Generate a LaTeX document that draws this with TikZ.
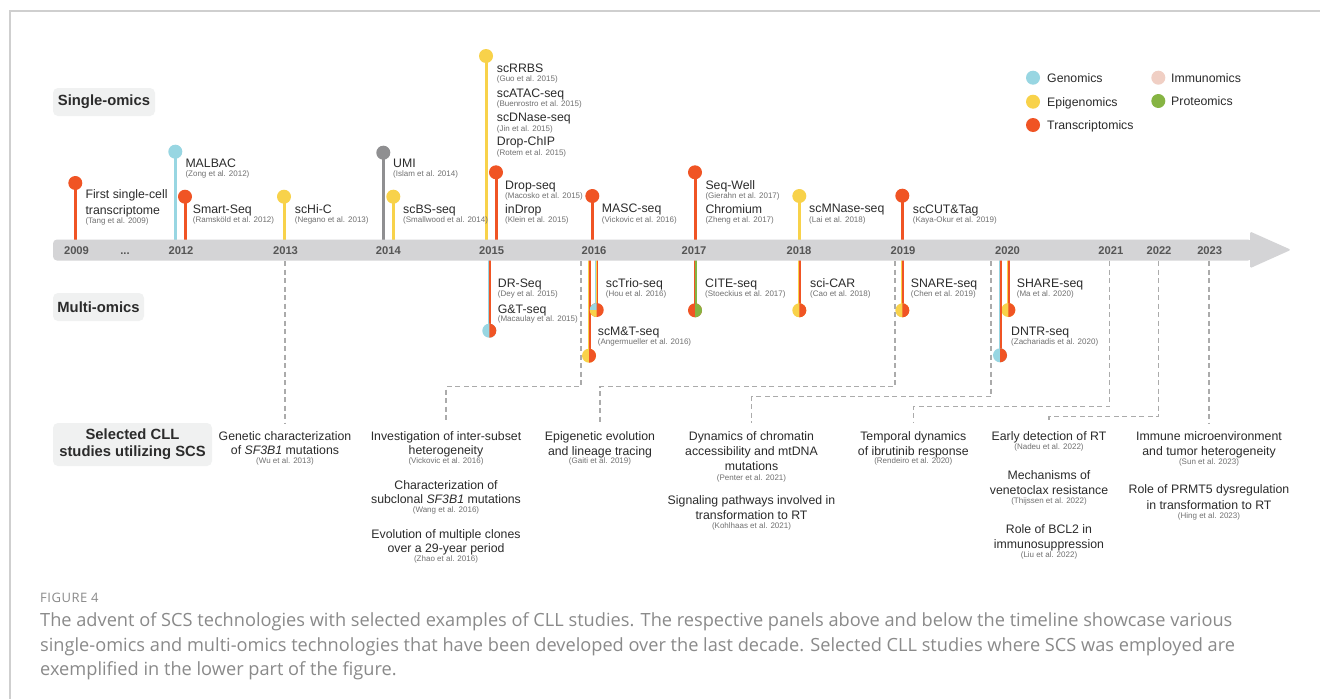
\documentclass[tikz,border=0pt]{standalone}
\usepackage{fontspec}
\setmainfont{Liberation Sans}
\newfontfamily\capfont{Open Sans}
\newfontfamily\figfont[LetterSpace=4]{Open Sans}
\definecolor{cGen}{HTML}{98D6E2}
\definecolor{cEpi}{HTML}{F8D24A}
\definecolor{cTra}{HTML}{F05424}
\definecolor{cImm}{HTML}{F0CFC4}
\definecolor{cPro}{HTML}{86B443}
\definecolor{cUmi}{HTML}{8F8F91}
\definecolor{axisgray}{HTML}{D4D4D6}
\definecolor{boxgray}{HTML}{F0F1F1}
\definecolor{dashgray}{HTML}{ABABAB}
\definecolor{txt}{HTML}{2B2B2B}
\definecolor{citec}{HTML}{707070}
\definecolor{yeargray}{HTML}{555555}
\definecolor{framec}{HTML}{CFCFCF}
\definecolor{capc}{HTML}{8A8A8A}
\tikzset{
 tn/.style={anchor=base west, inner sep=0pt, text=txt, font=\fontsize{12.3}{14}\selectfont},
 tc/.style={anchor=base west, inner sep=0pt, text=citec, font=\fontsize{8}{9}\selectfont},
 sn/.style={anchor=base, inner sep=0pt, text=txt, font=\fontsize{12.3}{14}\selectfont},
 sc/.style={anchor=base, inner sep=0pt, text=citec, font=\fontsize{8}{9}\selectfont},
 yr/.style={anchor=base, inner sep=0pt, text=yeargray, font=\bfseries\fontsize{11.2}{12}\selectfont},
 secbox/.style={fill=boxgray, rounded corners=5pt, inner sep=0pt, text=txt, align=center, font=\bfseries\fontsize{14.8}{17.3}\selectfont},
 stem/.style={line width=3pt},
 conn/.style={draw=dashgray, line width=1.2pt, dash pattern=on 5pt off 3.5pt, shorten >=8.5pt},
 capt/.style={anchor=base west, inner sep=0pt, text=capc, font=\capfont\fontsize{18.2}{20}\selectfont},
}
\newcommand\pinup[3]{%
  \draw[stem,#3] (#1,#2) -- (#1,240);
  \fill[#3] (#1,#2) circle (7);}
\newcommand\pindown[4]{%
  \draw[line width=1.5pt,#3] (#1-0.75,260) -- (#1-0.75,#2);
  \draw[line width=1.5pt,#4] (#1+0.75,260) -- (#1+0.75,#2);
  \fill[#3] (#1,#2) circle (7);
  \fill[#4] (#1,#2-7) arc[start angle=-90,end angle=90,radius=7] -- cycle;}
\newcommand\tech[6]{% id x namebase citebase name cite
  \node[tn] (#1) at (#2,#3) {#5};
  \node[tc] (#1c) at (#2,#4) {#6};}
\begin{document}
\begin{tikzpicture}[x=1pt,y=-1pt]
\useasboundingbox (0,0) rectangle (1320,699);
\fill[white] (0,0) rectangle (1320,699);
% frame
\draw[framec, line width=1.3pt] (10,699) -- (10,11) -- (1320,11);

% section boxes
\node[secbox, minimum width=102, minimum height=28] (single) at (104,102) {Single-omics};
\node[secbox, minimum width=91, minimum height=28] (multi) at (98.5,307) {Multi-omics};
\node[secbox, minimum width=159, minimum height=43] (cll) at (132.5,444.5) {Selected CLL\\studies utilizing SCS};

% legend
\fill[cGen] (1033,77.7) circle (7);
\fill[cEpi] (1033,101.7) circle (7);
\fill[cTra] (1033,125) circle (7);
\fill[cImm] (1158.3,77.7) circle (7);
\fill[cPro] (1158.3,101) circle (7);
\node[tn] (lgen) at (1047,82.2) {Genomics};
\node[tn] (lepi) at (1047,106) {Epigenomics};
\node[tn] (ltra) at (1047,129.5) {Transcriptomics};
\node[tn] (limm) at (1171,82.2) {Immunomics};
\node[tn] (lpro) at (1171,105.5) {Proteomics};

% single-omics pins
\pinup{75.3}{183}{cTra}
\pinup{175.3}{151.7}{cGen}
\pinup{185}{196.7}{cTra}
\pinup{284}{196.7}{cEpi}
\pinup{383.3}{152.7}{cUmi}
\pinup{393.3}{196.7}{cEpi}
\pinup{486}{56}{cEpi}
\pinup{496}{172.3}{cTra}
\pinup{592.3}{196}{cTra}
\pinup{695}{172.3}{cTra}
\pinup{799.3}{196}{cEpi}
\pinup{902.3}{195.7}{cTra}

% multi-omics pins
\pindown{489.3}{330.7}{cGen}{cTra}
\pindown{589}{355.7}{cEpi}{cTra}
\pindown{695}{310.3}{cTra}{cPro}
\pindown{799.3}{310.3}{cEpi}{cTra}
\pindown{902.3}{310.3}{cEpi}{cTra}
\pindown{1008.3}{310}{cEpi}{cTra}
\pindown{1000}{355.3}{cGen}{cTra}
% scTrio-seq
\draw[line width=1pt,cGen] (595.7,260) -- (595.7,310);
\draw[line width=1pt,cEpi] (596.7,260) -- (596.7,310);
\draw[line width=1pt,cTra] (597.7,260) -- (597.7,310);
\fill[cTra] (596.7,310) circle (7);
\fill[cGen] (596.7,310) -- (596.7,303) arc[start angle=-90,end angle=-180,radius=7] -- cycle;
\fill[cEpi] (596.7,310) -- (589.7,310) arc[start angle=180,end angle=90,radius=7] -- cycle;

% axis
\fill[axisgray, rounded corners=4pt] (53,239.5) rectangle (1252,260.5);
\fill[axisgray, rounded corners=1.5pt] (1250,231.5) -- (1291,249.8) -- (1250,268.2) -- cycle;

% years
\node[yr] (y2009) at (76.5,254.3) {2009};
\node[yr] (ydots) at (125,254.3) {...};
\node[yr] (y2012) at (181,254.3) {2012};
\node[yr] (y2013) at (285.5,254.3) {2013};
\node[yr] (y2014) at (388.3,254.3) {2014};
\node[yr] (y2015) at (491.7,254.3) {2015};
\node[yr] (y2016) at (594,254.3) {2016};
\node[yr] (y2017) at (694,254.3) {2017};
\node[yr] (y2018) at (799,254.3) {2018};
\node[yr] (y2019) at (903,254.3) {2019};
\node[yr] (y2020) at (1007.5,254.3) {2020};
\node[yr] (y2021) at (1110.8,254.3) {2021};
\node[yr] (y2022) at (1159,254.3) {2022};
\node[yr] (y2023) at (1209.7,254.3) {2023};

% single-omics labels
\node[tn] (t1a) at (85.3,198.8) {First single-cell};
\tech{t1}{85.3}{214.5}{223.5}{transcriptome}{(Tang et al. 2009)}
\tech{t2}{185.3}{167.5}{176.8}{MALBAC}{(Zong et al. 2012)}
\tech{t3}{192.7}{213.2}{222.5}{Smart-Seq}{(Ramsk\"old et al. 2012)}
\tech{t4}{294.7}{213.2}{222.3}{scHi-C}{(Negano et al. 2013)}
\tech{t5}{393}{167.5}{176.8}{UMI}{(Islam et al. 2014)}
\tech{t6}{403}{213.2}{222.3}{scBS-seq}{(Smallwood et al. 2014)}
\tech{t7}{496.7}{72.8}{81.8}{scRRBS}{(Guo et al. 2015)}
\tech{t8}{496.7}{97.2}{106.1}{scATAC-seq}{(Buenrostro et al. 2015)}
\tech{t9}{496.7}{121.8}{131.1}{scDNase-seq}{(Jin et al. 2015)}
\tech{t10}{496.7}{145.5}{155.1}{Drop-ChIP}{(Rotem et al. 2015)}
\tech{t11}{505}{189.5}{198.1}{Drop-seq}{(Macosko et al. 2015)}
\tech{t12}{505}{213.5}{222.8}{inDrop}{(Klein et al. 2015)}
\tech{t13}{601.7}{212.8}{222.1}{MASC-seq}{(Vickovic et al. 2016)}
\tech{t14}{705.3}{189.2}{198.1}{Seq-Well}{(Gierahn et al. 2017)}
\tech{t15}{705.3}{213.5}{222.8}{Chromium}{(Zheng et al. 2017)}
\tech{t16}{809}{212.8}{222.1}{scMNase-seq}{(Lai et al. 2018)}
\tech{t17}{912.7}{213.5}{222.8}{scCUT\&Tag}{(Kaya-Okur et al. 2019)}

% multi-omics labels
\tech{m1}{497.7}{287.8}{296.5}{DR-Seq}{(Dey et al. 2015)}
\tech{m2}{497.7}{313.2}{321.5}{G\&T-seq}{(Macaulay et al. 2015)}
\tech{m3}{605.7}{287.8}{296.5}{scTrio-seq}{(Hou et al. 2016)}
\tech{m4}{597.7}{335.8}{344.5}{scM\&T-seq}{(Angermueller et al. 2016)}
\tech{m5}{705}{287.8}{296.5}{CITE-seq}{(Stoeckius et al. 2017)}
\tech{m6}{810}{287.8}{296.5}{sci-CAR}{(Cao et al. 2018)}
\tech{m7}{910.7}{287.8}{296.5}{SNARE-seq}{(Chen et al. 2019)}
\tech{m8}{1016.7}{287.8}{296.5}{SHARE-seq}{(Ma et al. 2020)}
\tech{m9}{1011}{335.8}{344.5}{DNTR-seq}{(Zachariadis et al. 2020)}

% CLL studies
\node[sn] (A1) at (285,440.2) {Genetic characterization};
\node[sn] (A2) at (285,454.5) {of \textit{SF3B1} mutations};
\node[sc] (A3) at (285,463.5) {(Wu et al. 2013)};

\node[sn] (B1) at (446,440.5) {Investigation of inter-subset};
\node[sn] (B2) at (446,454.5) {heterogeneity};
\node[sc] (B3) at (446,463.8) {(Vickovic et al. 2016)};
\node[sn] (B4) at (446,489.5) {Characterization of};
\node[sn] (B5) at (446,503.8) {subclonal \textit{SF3B1} mutations};
\node[sc] (B6) at (446,512.1) {(Wang et al. 2016)};
\node[sn] (B7) at (446,538.5) {Evolution of multiple clones};
\node[sn] (B8) at (446,552.8) {over a 29-year period};
\node[sc] (B9) at (446,561.8) {(Zhao et al. 2016)};

\node[sn] (C1) at (600,440.5) {Epigenetic evolution};
\node[sn] (C2) at (600,455) {and lineage tracing};
\node[sc] (C3) at (600,463.8) {(Gaiti et al. 2019)};

\node[sn] (D1) at (751.5,440.5) {Dynamics of chromatin};
\node[sn] (D2) at (751.5,455.5) {accessibility and mtDNA};
\node[sn] (D3) at (751.5,470.2) {mutations};
\node[sc] (D4) at (751.5,480.1) {(Penter et al. 2021)};
\node[sn] (D5) at (751.5,504.5) {Signaling pathways involved in};
\node[sn] (D6) at (751.5,519.5) {transformation to RT};
\node[sc] (D7) at (751.5,528.5) {(Kohlhaas et al. 2021)};

\node[sn] (E1) at (913.3,440.2) {Temporal dynamics};
\node[sn] (E2) at (913.3,455.2) {of ibrutinib response};
\node[sc] (E3) at (913.3,463.8) {(Rendeiro et al. 2020)};

\node[sn] (F1) at (1049,440.2) {Early detection of RT};
\node[sc] (F2) at (1049,449.5) {(Nadeu et al. 2022)};
\node[sn] (F3) at (1049,479.8) {Mechanisms of};
\node[sn] (F4) at (1049,494.5) {venetoclax resistance};
\node[sc] (F5) at (1049,503.8) {(Thijssen et al. 2022)};
\node[sn] (F6) at (1049,533.8) {Role of BCL2 in};
\node[sn] (F7) at (1049,548.5) {immunosuppression};
\node[sc] (F8) at (1049,557.8) {(Liu et al. 2022)};

\node[sn] (G1) at (1209,440.2) {Immune microenvironment};
\node[sn] (G2) at (1209,455.2) {and tumor heterogeneity};
\node[sc] (G3) at (1209,464.1) {(Sun et al. 2023)};
\node[sn] (G4) at (1209,493.5) {Role of PRMT5 dysregulation};
\node[sn] (G5) at (1209,509.5) {in transformation to RT};
\node[sc] (G6) at (1209,518.5) {(Hing et al. 2023)};

% connectors
\coordinate (d2013) at (285,261);
\coordinate (d2016) at (581,261);
\coordinate (d2019) at (895,261);
\coordinate (d2020) at (991,261);
\coordinate (d2021) at (1109.5,261);
\coordinate (d2022) at (1158.3,261);
\coordinate (d2023) at (1209,261);
\draw[conn] (d2013) -- (A1.north);
\draw[conn] (d2016) -- ++(0,125.7) -| (B1.north);
\draw[conn] (d2019) -- ++(0,125.7) -| (C1.north);
\draw[conn] (d2020) -- ++(0,135.7) -| (D1.north);
\draw[conn] (d2021) -- ++(0,145.7) -| (E1.north);
\draw[conn] (d2022) -- ++(0,155.7) -| (F1.north);
\draw[conn] (d2023) -- (G1.north);

% caption
\node[anchor=base west, inner sep=0pt, text=capc, font=\figfont\fontsize{13}{14}\selectfont] (fig) at (40,602) {FIGURE 4};
\node[capt] (cap1) at (40,626.5) {The advent of SCS technologies with selected examples of CLL studies. The respective panels above and below the timeline showcase various};
\node[capt] (cap2) at (40,651) {single-omics and multi-omics technologies that have been developed over the last decade. Selected CLL studies where SCS was employed are};
\node[capt] (cap3) at (40,675) {exemplified in the lower part of the figure.};
\end{tikzpicture}
\end{document}
